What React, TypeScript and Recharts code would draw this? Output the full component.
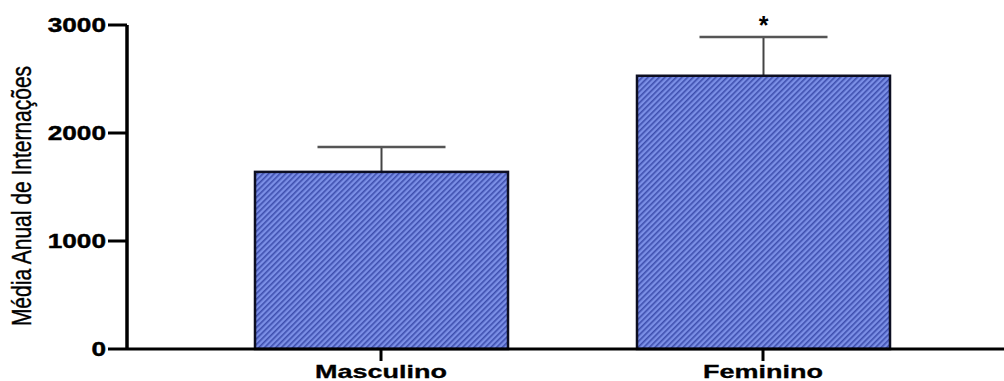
import React from 'react';
import { BarChart, Bar, XAxis, YAxis } from 'recharts';

const categories = ['Masculino', 'Feminino'];
const means = [1640, 2530];
const errors = [230, 360];
const significance = ['', '*'];
const yTicks = [0, 1000, 2000, 3000];
const yLabel = 'Média Anual de Internações';

const data = categories.map((c, i) => ({ name: c, mean: means[i], err: errors[i], sig: significance[i] }));

const FONT = '"Liberation Sans", Arial, sans-serif';

const BarShape = (props: any) => {
  const { x, y, width, height, payload } = props;
  const pxPerUnit = height / payload.mean;
  const errTop = y - payload.err * pxPerUnit;
  const cx = x + width / 2;
  return (
    <g>
      <line x1={cx} y1={y} x2={cx} y2={errTop} stroke="#444" strokeWidth={2} />
      <line x1={cx - 64} y1={errTop} x2={cx + 64} y2={errTop} stroke="#555" strokeWidth={2.5} />
      <rect x={x} y={y} width={width} height={height} fill="url(#hatch)" stroke="#0d0f22" strokeWidth={2.5} />
      {payload.sig ? (
        <text x={cx} y={errTop - 3} textAnchor="middle" fontFamily={FONT} fontWeight="bold" fontSize={25} fill="#000">
          {payload.sig}
        </text>
      ) : null}
    </g>
  );
};

const YTick = (props: any) => {
  const { x, y, payload } = props;
  return (
    <text transform={`translate(${x},${y}) scale(1.38,1.05)`} textAnchor="end" dominantBaseline="central"
      fontFamily={FONT} fontWeight="bold" fontSize={19} fill="#000" stroke="#000" strokeWidth={0.4}>
      {payload.value}
    </text>
  );
};

const XTick = (props: any) => {
  const { x, y, payload } = props;
  return (
    <text transform={`translate(${x},${y + 17}) scale(1.5,1)`} textAnchor="middle"
      fontFamily={FONT} fontWeight="bold" fontSize={18} fill="#000" stroke="#000" strokeWidth={0.3}>
      {payload.value}
    </text>
  );
};

const YLabel = () => (
  <text transform={`translate(31,196) rotate(-90) scale(1,1.3)`} textAnchor="middle"
    fontFamily={FONT} fontSize={21} fill="#000" stroke="#000" strokeWidth={0.3}>
    {yLabel}
  </text>
);

export default function App() {
  return (
    <div style={{ position: 'absolute', left: 0, top: 0, width: 1004, height: 381, background: '#fff' }}>
      <BarChart width={1004} height={381} data={data} margin={{ top: 25, right: 0, bottom: 0, left: 0 }} barSize={253}>
        <defs>
          <pattern id="hatch" patternUnits="userSpaceOnUse" width="4" height="4" patternTransform="rotate(45)">
            <rect width="4" height="4" fill="#7b8fe6" />
            <rect width="1.6" height="4" fill="#3e4fae" />
          </pattern>
        </defs>
        <XAxis dataKey="name" height={32} padding={{ left: 63, right: 50 }} tickLine={{ stroke: '#000', strokeWidth: 3 }}
          tickSize={12} tickMargin={0} axisLine={{ stroke: '#000', strokeWidth: 3 }} tick={<XTick />} interval={0} />
        <YAxis width={127} domain={[0, 3000]} ticks={yTicks} tickSize={19} tickMargin={2}
          axisLine={{ stroke: '#000', strokeWidth: 3.5 }} tickLine={{ stroke: '#000', strokeWidth: 3 }}
          tick={<YTick />} label={{ content: () => <YLabel /> }} />
        <Bar dataKey="mean" isAnimationActive={false} shape={<BarShape />} />
      </BarChart>
    </div>
  );
}
